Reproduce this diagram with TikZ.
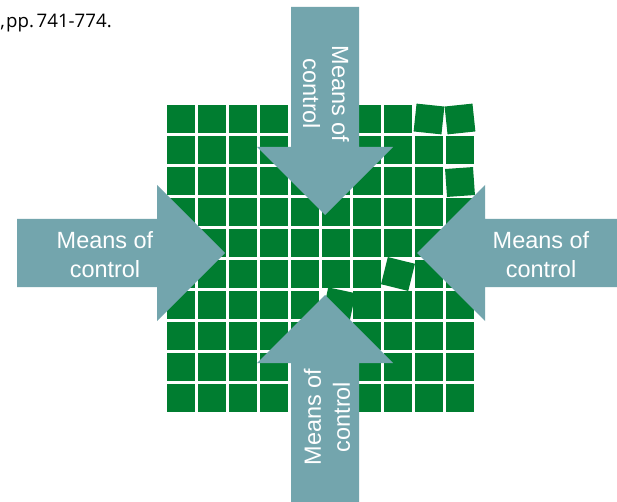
\documentclass[tikz,border=0pt]{standalone}
\usepackage{fontspec}
\setmainfont{Liberation Sans}
\newfontfamily\citefont{Open Sans}
\usepackage{xcolor}
\usepackage{tikz}
\usetikzlibrary{calc}
\definecolor{tilegreen}{RGB}{0,125,48}
\definecolor{arrowgray}{RGB}{115,165,173}
\tikzset{
    tile/.style={rectangle, fill=tilegreen, draw=none, inner sep=0pt, minimum size=21pt},
    means/.style={fill=arrowgray, draw=none},
    ctrl/.style={text=white, align=center, inner sep=0pt, font=\fontsize{17.6}{21.75}\selectfont}
}

\begin{document}
\begin{tikzpicture}[
		% Toạ độ theo điểm ảnh, trục y hướng xuống
		x=0.75pt, y=-0.75pt
		]
		
		% Khung nền
		\fill[white] (0,0) rectangle (617,502);
		\useasboundingbox (0,0) rectangle (617,502);
		
		% Dòng trích dẫn phía trên
		\node[anchor=base west, inner sep=0pt, font=\citefont\fontsize{14}{16}\selectfont] (cite) at (0,28) {,\kern1pt pp.\kern2pt 741-774.};
		
		% Lưới ô vuông (bỏ qua các ô bị lệch)
		\foreach \c in {0,...,9} {
			\foreach \r in {0,...,9} {
				\pgfmathtruncatemacro\moved{(\c==8 && \r==0) || (\c==9 && \r==0) || (\c==9 && \r==2) || (\c==7 && \r==5) || (\c==5 && \r==6)}
				\ifnum\moved=0
					\node[tile] (t-\c-\r) at (181+31*\c, 119+31*\r) {};
				\fi
			}
		}
		
		% Các ô bị xoay lệch
		\foreach \c/\r/\ang/\dx/\dy in {8/0/-6/0/0, 9/0/6/0/0, 9/2/4/0/1, 7/5/-14/0/0, 5/6/-12/3/-1} {
			\node[tile, rotate=\ang] (t-\c-\r) at (181+31*\c+\dx, 119+31*\r+\dy) {};
		}
		
		% Mũi tên trái
		\fill[means] (17,219) -- (157,219) -- (157,185) -- (225,253) -- (157,321) -- (157,287) -- (17,287) -- cycle;
		% Mũi tên phải
		\fill[means] (617,219) -- (485,219) -- (485,185) -- (417,253) -- (485,321) -- (485,287) -- (617,287) -- cycle;
		% Mũi tên trên
		\fill[means] (291,7) -- (359,7) -- (359,147) -- (393,147) -- (325,215) -- (257,147) -- (291,147) -- cycle;
		% Mũi tên dưới
		\fill[means] (291,502) -- (291,363) -- (257,363) -- (325,295) -- (393,363) -- (359,363) -- (359,502) -- cycle;
		
		% Nhãn
		\node[ctrl] (lbl-left) at (105,255) {Means of\\control};
		\node[ctrl] (lbl-right) at (541,255) {Means of\\control};
		\node[ctrl, rotate=-90] (lbl-top) at (326,94) {Means of\\control};
		\node[ctrl, rotate=90] (lbl-bottom) at (327,417) {Means of\\control};
		
	\end{tikzpicture}
\end{document}
